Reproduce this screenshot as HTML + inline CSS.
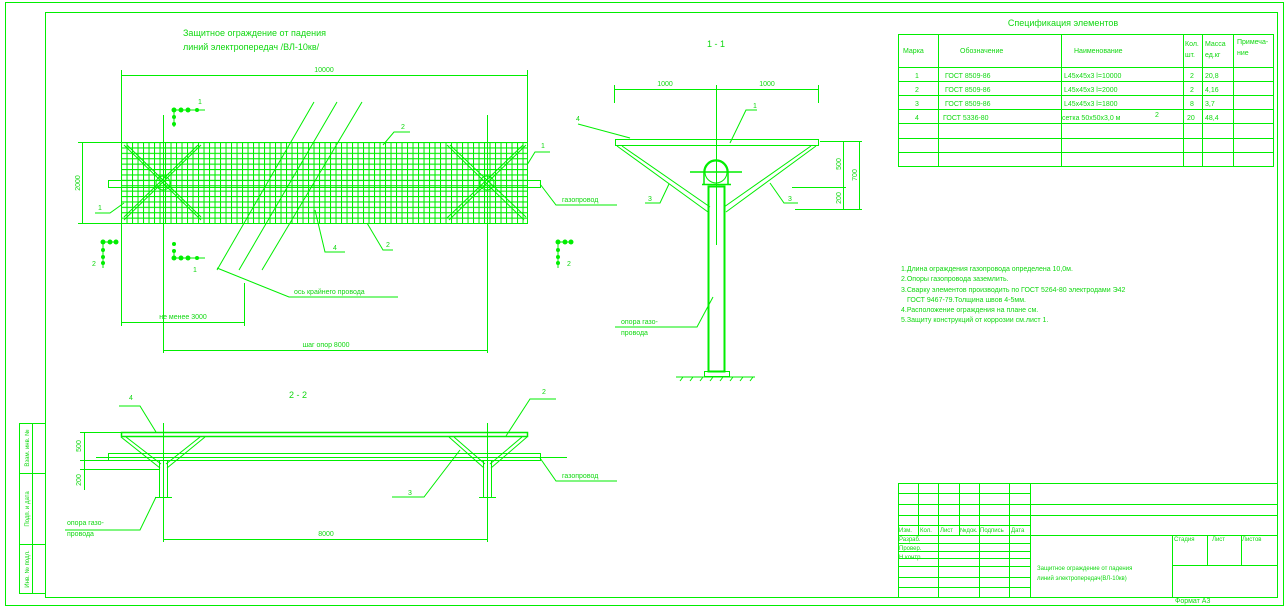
<!DOCTYPE html>
<html><head><meta charset="utf-8"><style>
html,body{margin:0;padding:0;background:#fff;}
svg{display:block;font-family:"Liberation Sans",sans-serif;}
text{fill:#10d810;font-size:7px;}
</style></head><body>
<svg width="1288" height="612" viewBox="0 0 1288 612" xmlns="http://www.w3.org/2000/svg">
<defs>
<pattern id="g" x="121" y="142" width="5.5" height="5.4" patternUnits="userSpaceOnUse">
<path d="M0.5 0V5.4M0 0.5H5.5" stroke="#00ee00" stroke-width="1.1" fill="none"/>
</pattern>
</defs>
<g stroke="#00ee00" fill="none" stroke-width="1">
<rect x="5.5" y="2.5" width="1278" height="603"/>
<rect x="45.5" y="12.5" width="1232" height="585"/>
<rect x="19.5" y="423.5" width="26" height="170"/>
<line x1="32.5" y1="423" x2="32.5" y2="594"/>
<line x1="19" y1="473.5" x2="46" y2="473.5"/>
<line x1="19" y1="544.5" x2="46" y2="544.5"/>

<rect x="121" y="142" width="406" height="81" fill="url(#g)" stroke="none"/>
<rect x="121.5" y="142.5" width="406" height="81"/>
<line x1="121" y1="75.5" x2="528" y2="75.5"/>
<line x1="121.5" y1="70" x2="121.5" y2="142"/>
<line x1="527.5" y1="70" x2="527.5" y2="142"/>
<line x1="82.5" y1="142" x2="82.5" y2="223"/>
<line x1="78" y1="142.5" x2="121" y2="142.5"/>
<line x1="78" y1="223.5" x2="121" y2="223.5"/>
<rect x="108.5" y="180.5" width="432" height="7"/>
<line x1="163.5" y1="115" x2="163.5" y2="353"/>
<line x1="487.5" y1="115" x2="487.5" y2="353"/>
<path d="M124 145L201 220M127 145L201 217M201 145L124 220M198 145L124 217"/>
<path d="M447 145L524 220M450 145L526 217M526 145L449 220M523 145L447 218"/>
<circle cx="163" cy="183" r="7"/>
<circle cx="487" cy="183" r="7"/>
<path d="M314 102L217 270M337 102L239 270M362 102L262 270"/>
<line x1="121" y1="322.5" x2="244" y2="322.5"/>
<line x1="121.5" y1="223" x2="121.5" y2="326"/>
<line x1="244.5" y1="283" x2="244.5" y2="326"/>
<line x1="163" y1="350.5" x2="487" y2="350.5"/>
<path d="M217 268L289 297H398"/>
<path d="M540 184L556 205H617"/>
<path d="M383 145L394 132H410"/>
<path d="M527 165L535 152H550"/>
<path d="M124 203L110 213H95"/>
<path d="M315 210L325 252H345"/>
<path d="M367 223L383 250H393"/>
<path d="M174 110H205M174 110V127M103 242V268M103 242H118M174 258V250M174 258H205M558 242V268M558 242H572"/>
</g>
<g fill="#00ee00">
<circle cx="174" cy="110" r="2.5"/><circle cx="181" cy="110" r="2.5"/><circle cx="188" cy="110" r="2.5"/><circle cx="197" cy="110" r="2"/><circle cx="174" cy="117" r="2"/><circle cx="174" cy="124" r="2"/>
<circle cx="103" cy="242" r="2.5"/><circle cx="110" cy="242" r="2.5"/><circle cx="116" cy="242" r="2.5"/><circle cx="103" cy="250" r="2"/><circle cx="103" cy="257" r="2"/><circle cx="103" cy="263" r="2"/>
<circle cx="174" cy="258" r="2.5"/><circle cx="181" cy="258" r="2.5"/><circle cx="188" cy="258" r="2.5"/><circle cx="197" cy="258" r="2"/><circle cx="174" cy="251" r="2"/><circle cx="174" cy="244" r="2"/>
<circle cx="558" cy="242" r="2.5"/><circle cx="565" cy="242" r="2.5"/><circle cx="571" cy="242" r="2.5"/><circle cx="558" cy="250" r="2"/><circle cx="558" cy="257" r="2"/><circle cx="558" cy="263" r="2"/>
</g>
<text x="183" y="36" style="font-size:9px">Защитное ограждение от падения</text>
<text x="183" y="50" style="font-size:9px">линий электропередач /ВЛ-10кв/</text>
<text x="324" y="72" text-anchor="middle">10000</text>
<text x="80" y="183" text-anchor="middle" transform="rotate(-90 80 183)">2000</text>
<text x="183" y="319" text-anchor="middle">не менее 3000</text>
<text x="326" y="347" text-anchor="middle">шаг опор 8000</text>
<text x="294" y="294">ось крайнего провода</text>
<text x="562" y="202">газопровод</text>
<text x="401" y="129">2</text><text x="541" y="148">1</text><text x="98" y="210">1</text>
<text x="333" y="250">4</text><text x="386" y="247">2</text>
<text x="198" y="104">1</text><text x="92" y="266">2</text><text x="193" y="272">1</text><text x="567" y="266">2</text>

<text x="716" y="47" text-anchor="middle" style="font-size:9px">1 - 1</text>
<g stroke="#00ee00" fill="none" stroke-width="1">
<line x1="614" y1="89.5" x2="818" y2="89.5"/>
<line x1="614.5" y1="85" x2="614.5" y2="103"/>
<line x1="716.5" y1="85" x2="716.5" y2="245"/>
<line x1="818.5" y1="85" x2="818.5" y2="103"/>
<rect x="615.5" y="139.5" width="203" height="6"/>
<path d="M617 146L708 212M622 146L710 207M816 146L726 212M811 146L724 207"/>
<circle cx="716" cy="172" r="11"/>
<path d="M704 184V172A12 12 0 0 1 728 172V184" stroke-width="1.5"/>
<path d="M702 184.5H731M690 172H742" stroke-width="1.5"/>
<rect x="708.5" y="186.5" width="16" height="185" stroke-width="2"/>
<rect x="704.5" y="371.5" width="25" height="5"/>
<path d="M676 377H755M680 381l3-4M690 381l3-4M700 381l3-4M710 381l3-4M720 381l3-4M730 381l3-4M740 381l3-4M750 381l3-4"/>
<line x1="820" y1="141.5" x2="862" y2="141.5"/>
<line x1="792" y1="187.5" x2="846" y2="187.5"/>
<line x1="795" y1="209.5" x2="862" y2="209.5"/>
<line x1="843.5" y1="141" x2="843.5" y2="210"/>
<line x1="859.5" y1="141" x2="859.5" y2="210"/>
<path d="M578 124L630 138"/>
<path d="M730 143L746 110H757"/>
<path d="M669 184L660 203H645"/>
<path d="M770 183L784 203H798"/>
<path d="M713 297L697 327H615"/>
</g>
<text x="665" y="86" text-anchor="middle">1000</text>
<text x="767" y="86" text-anchor="middle">1000</text>
<text x="841" y="164" text-anchor="middle" transform="rotate(-90 841 164)">500</text>
<text x="841" y="198" text-anchor="middle" transform="rotate(-90 841 198)">200</text>
<text x="857" y="175" text-anchor="middle" transform="rotate(-90 857 175)">700</text>
<text x="576" y="121">4</text><text x="753" y="108">1</text>
<text x="648" y="201">3</text><text x="788" y="201">3</text>
<text x="621" y="324">опора газо-</text>
<text x="621" y="335">провода</text>

<text x="298" y="398" text-anchor="middle" style="font-size:9px">2 - 2</text>
<g stroke="#00ee00" fill="none" stroke-width="1">
<rect x="121.5" y="432.5" width="406" height="4" stroke-width="1.5"/>
<rect x="108.5" y="453.5" width="432" height="7"/>
<line x1="96" y1="457.5" x2="567" y2="457.5"/>
<line x1="163.5" y1="423" x2="163.5" y2="542"/>
<line x1="487.5" y1="423" x2="487.5" y2="542"/>
<path d="M121 437L160 468M126 437L161 464M205 437L167 468M200 437L166 464"/>
<path d="M449 437L484 468M454 437L485 464M527 437L491 468M522 437L490 464"/>
<rect x="159.5" y="460.5" width="8" height="37"/>
<rect x="483.5" y="460.5" width="8" height="37"/>
<path d="M155 497.5H172M479 497.5H496"/>
<line x1="163" y1="539.5" x2="487" y2="539.5"/>
<line x1="84.5" y1="432" x2="84.5" y2="490"/>
<path d="M80 432.5H121M80 460.5H108M80 469.5H160"/>
<path d="M119 406H140L156 432"/>
<path d="M506 436L530 399H556"/>
<path d="M460 450L424 497H392"/>
<path d="M540 458L556 481H617"/>
<path d="M156 497L140 530H65"/>
</g>
<text x="81" y="446" text-anchor="middle" transform="rotate(-90 81 446)">500</text>
<text x="81" y="480" text-anchor="middle" transform="rotate(-90 81 480)">200</text>
<text x="326" y="536" text-anchor="middle">8000</text>
<text x="129" y="400">4</text><text x="542" y="394">2</text><text x="408" y="495">3</text>
<text x="562" y="478">газопровод</text>
<text x="67" y="525">опора газо-</text>
<text x="67" y="536">провода</text>

<text x="1063" y="26" text-anchor="middle" style="font-size:9px">Спецификация элементов</text>
<g stroke="#00ee00" fill="none" stroke-width="1">
<rect x="898.5" y="34.5" width="375" height="132"/>
<path d="M898 67.5H1274M898 81.5H1274M898 95.5H1274M898 109.5H1274M898 123.5H1274M898 138.5H1274M898 152.5H1274"/>
<path d="M938.5 34V167M1061.5 34V167M1183.5 34V167M1202.5 34V167M1233.5 34V167"/>
</g>
<text x="903" y="53">Марка</text><text x="960" y="53">Обозначение</text><text x="1074" y="53">Наименование</text>
<text x="1185" y="46">Кол.</text><text x="1185" y="57">шт.</text>
<text x="1205" y="46">Масса</text><text x="1205" y="57">ед.кг</text>
<text x="1237" y="44">Примеча-</text><text x="1237" y="55">ние</text>
<text x="915" y="78">1</text><text x="945" y="78">ГОСТ 8509-86</text><text x="1064" y="78">L45x45x3  l=10000</text><text x="1190" y="78">2</text><text x="1205" y="78">20,8</text>
<text x="915" y="92">2</text><text x="945" y="92">ГОСТ 8509-86</text><text x="1064" y="92">L45x45x3  l=2000</text><text x="1190" y="92">2</text><text x="1205" y="92">4,16</text>
<text x="915" y="106">3</text><text x="945" y="106">ГОСТ 8509-86</text><text x="1064" y="106">L45x45x3  l=1800</text><text x="1190" y="106">8</text><text x="1205" y="106">3,7</text>
<text x="915" y="120">4</text><text x="943" y="120">ГОСТ 5336-80</text><text x="1062" y="120">сетка 50x50x3,0     м</text><text x="1155" y="117">2</text><text x="1187" y="120">20</text><text x="1205" y="120">48,4</text>

<text x="901" y="271">1.Длина ограждения газопровода определена 10,0м.</text>
<text x="901" y="281">2.Опоры газопровода заземлить.</text>
<text x="901" y="292">3.Сварку элементов производить по ГОСТ 5264-80 электродами Э42</text>
<text x="907" y="302">ГОСТ 9467-79.Толщина швов 4-5мм.</text>
<text x="901" y="312">4.Расположение ограждения на плане см.</text>
<text x="901" y="322">5.Защиту конструкций от коррозии см.лист 1.</text>

<g stroke="#00ee00" fill="none" stroke-width="1">
<rect x="898.5" y="483.5" width="379" height="114"/>
<path d="M898 493.5H1030M898 504.5H1278M898 515.5H1278M898 525.5H1030M898 535.5H1278M898 543.5H1030M898 551.5H1030M898 558.5H1030M898 566.5H1030M1172 565.5H1278M898 577.5H1030M898 587.5H1030"/>
<path d="M918.5 483V535M938.5 483V597M959.5 483V535M979.5 483V597M1009.5 483V597M1030.5 483V597"/>
<path d="M1172.5 535V597M1207.5 535V565M1241.5 535V565"/>
</g>
<text x="899" y="532" style="font-size:6px">Изм.</text><text x="920" y="532" style="font-size:6px">Кол.</text><text x="940" y="532" style="font-size:6px">Лист</text><text x="960" y="532" style="font-size:6px">№док.</text><text x="980" y="532" style="font-size:6px">Подпись</text><text x="1011" y="532" style="font-size:6px">Дата</text>
<text x="899" y="541" style="font-size:6px">Разраб.</text><text x="899" y="550" style="font-size:6px">Провер.</text><text x="899" y="559" style="font-size:6px">Н.контр.</text>
<text x="1174" y="541" style="font-size:6px">Стадия</text><text x="1212" y="541" style="font-size:6px">Лист</text><text x="1242" y="541" style="font-size:6px">Листов</text>
<text x="1037" y="570" style="font-size:6px">Защитное ограждение от падения</text>
<text x="1037" y="580" style="font-size:6px">линий электропередач(ВЛ-10кв)</text>
<text x="1175" y="603">Формат А3</text>
<text x="29" y="448" text-anchor="middle" transform="rotate(-90 29 448)" style="font-size:6px">Взам. инв. №</text>
<text x="29" y="509" text-anchor="middle" transform="rotate(-90 29 509)" style="font-size:6px">Подп. и дата</text>
<text x="29" y="569" text-anchor="middle" transform="rotate(-90 29 569)" style="font-size:6px">Инв. № подл.</text>
</svg>
</body></html>
